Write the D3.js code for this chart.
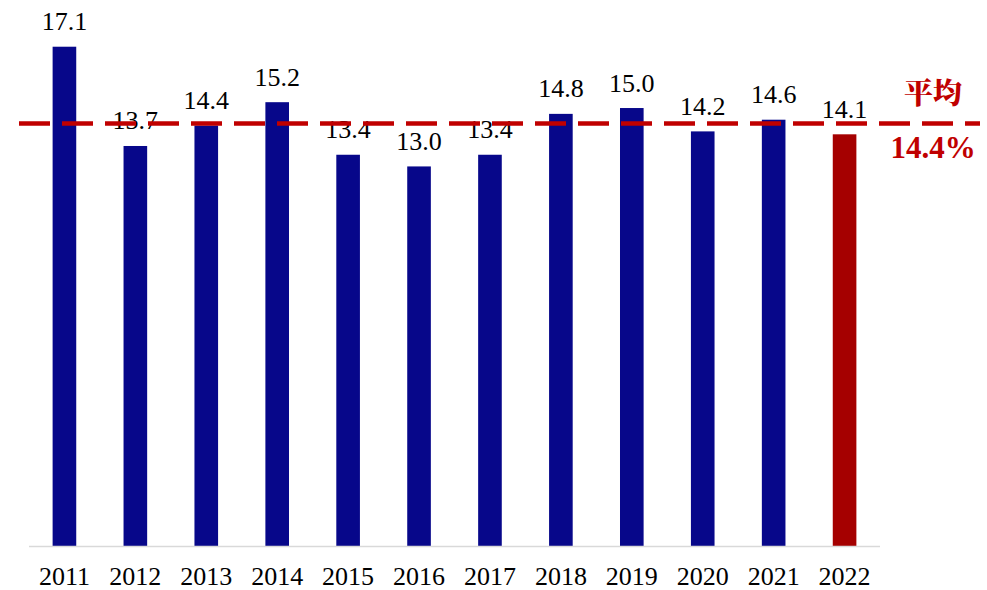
<!DOCTYPE html>
<html>
<head>
<meta charset="utf-8">
<script src="https://cdn.jsdelivr.net/npm/d3@7"></script>
<style>
  html, body { margin: 0; padding: 0; background: #fff; }
  svg { display: block; }
  .serif { font-family: "Liberation Serif", "Times New Roman", Tinos, serif; }
</style>
</head>
<body>
<svg id="chart" width="987" height="590"></svg>
<script>
// Yearly ratio (%) and the period average
const years = ["2011","2012","2013","2014","2015","2016","2017","2018","2019","2020","2021","2022"];
const values = [17.1, 13.7, 14.4, 15.2, 13.4, 13.0, 13.4, 14.8, 15.0, 14.2, 14.6, 14.1];
const averageValue = 14.4;
const averageTitle = "平均";
const averageLabel = "14.4%";
const highlightYear = "2022";

const svg = d3.select("#chart");

const x = d3.scaleBand()
  .domain(years)
  .range([29, 880])
  .paddingInner(0.667)
  .paddingOuter(0.333);

const y = d3.scaleLinear()
  .domain([0, 18.7])
  .range([546, 0]);

// Bars
svg.append("g")
  .selectAll("rect")
  .data(years)
  .join("rect")
  .attr("x", d => x(d))
  .attr("y", (d, i) => y(values[i]))
  .attr("width", x.bandwidth())
  .attr("height", (d, i) => y(0) - y(values[i]))
  .attr("fill", d => d === highlightYear ? "#A50000" : "#07078A");

// Baseline axis with year labels
const xAxis = svg.append("g")
  .attr("transform", `translate(0,${y(0)})`)
  .call(d3.axisBottom(x).tickSize(0).tickPadding(21))
  .attr("font-family", null)
  .attr("font-size", null);
xAxis.select(".domain")
  .attr("d", "M29,0.5H880")
  .attr("stroke", "#d9d9d9")
  .attr("stroke-width", 1.5);
xAxis.selectAll("text")
  .attr("class", "serif")
  .style("font-size", "26px")
  .attr("fill", "#000");

// Value labels above bars
svg.append("g")
  .selectAll("text")
  .data(years)
  .join("text")
  .attr("class", "serif")
  .attr("x", d => x(d) + x.bandwidth() / 2)
  .attr("y", (d, i) => y(values[i]) - 16.5)
  .attr("text-anchor", "middle")
  .style("font-size", "26px")
  .attr("fill", "#000")
  .text((d, i) => values[i].toFixed(1));

// Average reference line
svg.append("line")
  .attr("x1", 19)
  .attr("x2", 980)
  .attr("y1", y(averageValue) - 2)
  .attr("y2", y(averageValue) - 2)
  .attr("stroke", "#C00000")
  .attr("stroke-width", 4.5)
  .attr("stroke-dasharray", "31 12");

// Average annotation
svg.append("text")
  .attr("x", 933)
  .attr("y", 104)
  .attr("text-anchor", "middle")
  .style("font-family", "'Noto Serif CJK SC', 'Noto Sans CJK SC', serif")
  .style("font-weight", "900")
  .style("font-size", "29px")
  .attr("fill", "#C00000")
  .text(averageTitle);

svg.append("text")
  .attr("class", "serif")
  .attr("x", 933)
  .attr("y", 158)
  .attr("text-anchor", "middle")
  .style("font-weight", "bold")
  .style("font-size", "31px")
  .attr("fill", "#C00000")
  .text(averageLabel);
</script>
</body>
</html>
